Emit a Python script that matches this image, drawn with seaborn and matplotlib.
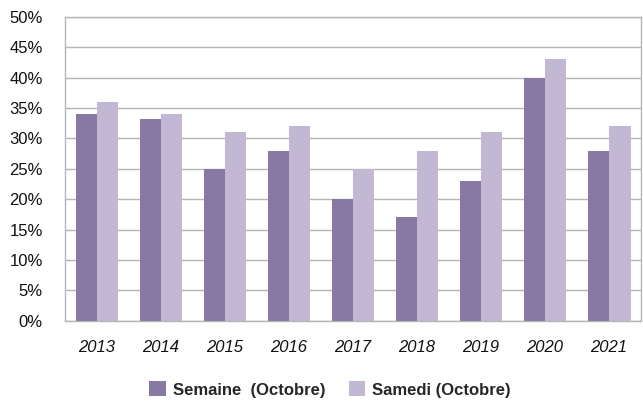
import matplotlib
matplotlib.use("Agg")
import matplotlib.pyplot as plt
import seaborn as sns
import pandas as pd
from matplotlib.ticker import FuncFormatter, MultipleLocator

years = ["2013", "2014", "2015", "2016", "2017", "2018", "2019", "2020", "2021"]
semaine = [34, 33.2, 25, 28, 20, 17, 23, 40, 28]
samedi = [36, 34, 31, 32, 25, 28, 31, 43, 32]
series_names = ["Semaine  (Octobre)", "Samedi (Octobre)"]
colors = ["#8878A4", "#C3B8D3"]

df = pd.DataFrame({
    "annee": years * 2,
    "valeur": semaine + samedi,
    "serie": [series_names[0]] * len(years) + [series_names[1]] * len(years),
})

sns.set_theme(style="white")
plt.rcParams["font.family"] = ["Liberation Sans", "DejaVu Sans"]

fig = plt.figure(figsize=(6.43, 4.01), dpi=100)
ax = fig.add_axes([0.101, 0.2, 0.896, 0.758])

sns.barplot(data=df, x="annee", y="valeur", hue="serie", palette=colors,
            width=0.67, ax=ax, saturation=1, linewidth=0, zorder=3)

ax.set_ylim(0, 50)
ax.yaxis.set_major_locator(MultipleLocator(5))
ax.yaxis.set_major_formatter(FuncFormatter(lambda v, p: f"{int(v)}%"))
ax.grid(axis="y", color="#B5B5B5", linewidth=1.0, zorder=0)
ax.set_axisbelow(True)
for s in ax.spines.values():
    s.set_color("#B5B5B5")
    s.set_linewidth(1.0)
ax.set_xlabel("")
ax.set_ylabel("")
ax.tick_params(axis="y", labelsize=12, length=0, pad=16, colors="#111111")
ax.tick_params(axis="x", labelsize=12, length=0, pad=14, colors="#111111")
for t in ax.get_xticklabels():
    t.set_fontstyle("italic")

handles, labels = ax.get_legend_handles_labels()
ax.legend(handles, labels, loc="upper center", bbox_to_anchor=(0.46, -0.15),
          ncol=2, frameon=False, handlelength=1.0, handleheight=1.0,
          handletextpad=0.4, columnspacing=1.4,
          prop={"weight": "bold", "size": 12})

fig.savefig("out.png", dpi=100)
